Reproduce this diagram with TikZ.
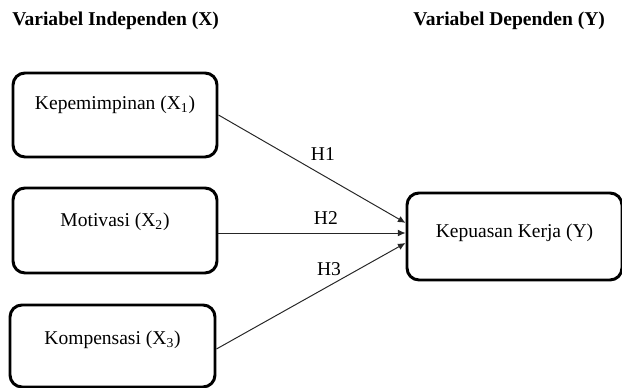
\documentclass[tikz,border=0pt]{standalone}
\usepackage{fontspec}
\setmainfont{Liberation Serif}
\usetikzlibrary{arrows.meta}

\tikzset{
  varbox/.style={draw, line width=2.1pt, rounded corners=0.3cm, minimum width=5.1cm, minimum height=2.1cm, inner sep=0},
  hyp/.style={-{Latex[length=1.9mm,width=1.7mm]}, line width=0.7pt, black!85},
  hlabel/.style={inner sep=0, text=black},
  header/.style={anchor=west, inner sep=0, font=\fontsize{13.9}{16}\selectfont\bfseries}
}

\begin{document}
\begin{tikzpicture}[font=\fontsize{13.9}{16}\selectfont]
      \useasboundingbox (0,0) rectangle (15.55,9.7);
      \node[header] (hx) at (0.3,9.17) {Variabel Independen (X)};
      \node[header] (hy) at (10.33,9.17) {Variabel Dependen (Y)};
      \node[varbox, label={[yshift=0.25cm]center:{Kepemimpinan (X\textsubscript{1})}}] (x1) at (2.875,6.825) {};
      \node[varbox, minimum height=2.125cm, label={[yshift=0.21cm]center:{Motivasi (X\textsubscript{2})}}] (x2) at (2.875,3.9375) {};
      \node[varbox, minimum width=5.125cm, minimum height=2.05cm, label={[yshift=0.15cm]center:{Kompensasi (X\textsubscript{3})}}] (x3) at (2.8125,1.05) {};
      \node[varbox, minimum width=5.375cm, minimum height=2.175cm, label={[yshift=0.09cm]center:{Kepuasan Kerja (Y)}}] (y) at (12.8625,3.7875) {};
      \draw[hyp] (x1.east) -- ([yshift=0.34cm]y.west) node[hlabel, pos=0.558, above=0.36cm] {H1};
      \draw[hyp] ([yshift=-0.0625cm]x2.east) -- ([yshift=0.0875cm]y.west) node[hlabel, pos=0.574, above=0.19cm] {H2};
      \draw[hyp] ([yshift=-0.075cm]x3.east) -- ([yshift=-0.1625cm]y.west) node[hlabel, pos=0.595, above=0.235cm] {H3};
    \end{tikzpicture}
\end{document}
